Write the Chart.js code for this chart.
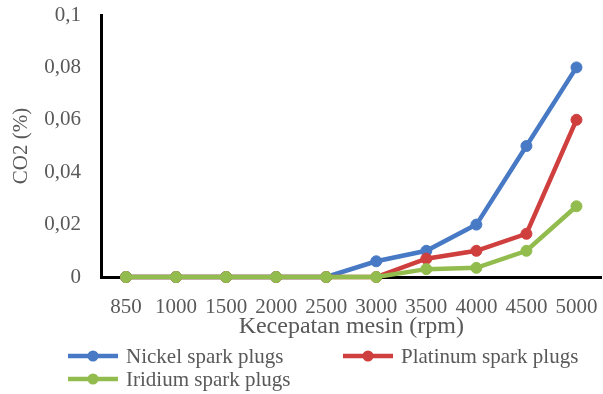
<!DOCTYPE html>
<html>
<head>
<meta charset="utf-8">
<style>
  html, body { margin: 0; padding: 0; background: #ffffff; overflow: hidden; }
  #wrap { position: relative; width: 603px; height: 394px; overflow: hidden; }
  #chart { display: block; }
</style>
<script src="https://cdn.jsdelivr.net/npm/chart.js@4/dist/chart.umd.min.js"></script>
</head>
<body>
<div id="wrap"><canvas id="chart" width="608" height="394"></canvas></div>
<script>
// Engine speed categories (rpm)
const rpmLabels = ['850', '1000', '1500', '2000', '2500', '3000', '3500', '4000', '4500', '5000'];

// CO2 emission (%) per spark plug type
const nickelCO2   = [0, 0, 0, 0, 0, 0.006, 0.010, 0.020, 0.050, 0.080];
const platinumCO2 = [0, 0, 0, 0, 0, 0,     0.007, 0.010, 0.0165, 0.060];
const iridiumCO2  = [0, 0, 0, 0, 0, 0,     0.003, 0.0035, 0.010, 0.027];

// Y axis tick labels (decimal comma)
const yTickLabels = ['0', '0,02', '0,04', '0,06', '0,08', '0,1'];

const seriesNames = ['Nickel spark plugs', 'Platinum spark plugs', 'Iridium spark plugs'];
const seriesColors = ['#4779c4', '#cf3f3d', '#92bd4e'];

const textGray = '#595959';
const serif = '"Liberation Serif", "Times New Roman", serif';

function lineDataset(i, values, order) {
  return {
    label: seriesNames[i],
    data: values,
    borderColor: seriesColors[i],
    backgroundColor: seriesColors[i],
    pointBackgroundColor: seriesColors[i],
    pointBorderColor: seriesColors[i],
    borderWidth: 4.5,
    pointRadius: 5.5,
    pointBorderWidth: 1,
    tension: 0,
    clip: false,
    order: order
  };
}

// Legend laid out in two columns, the third entry wrapping to a second row
const legendSlots = [
  { x: 68,  y: 356 },
  { x: 343, y: 356 },
  { x: 68,  y: 379 }
];

const legendPlugin = {
  id: 'columnLegend',
  afterDraw(chart) {
    const ctx = chart.ctx;
    ctx.save();
    seriesNames.forEach((name, i) => {
      const s = legendSlots[i];
      const c = seriesColors[i];
      ctx.strokeStyle = c;
      ctx.lineWidth = 4.5;
      ctx.lineCap = 'butt';
      ctx.beginPath();
      ctx.moveTo(s.x, s.y);
      ctx.lineTo(s.x + 50, s.y);
      ctx.stroke();
      ctx.fillStyle = c;
      ctx.beginPath();
      ctx.arc(s.x + 25, s.y, 5.5, 0, Math.PI * 2);
      ctx.fill();
      ctx.fillStyle = textGray;
      ctx.font = '21px ' + serif;
      ctx.textBaseline = 'middle';
      ctx.textAlign = 'left';
      ctx.fillText(name, s.x + 58, s.y + 1);
    });
    ctx.restore();
  }
};

new Chart(document.getElementById('chart'), {
  type: 'line',
  data: {
    labels: rpmLabels,
    datasets: [
      lineDataset(0, nickelCO2, 2),
      lineDataset(1, platinumCO2, 1),
      lineDataset(2, iridiumCO2, 0)
    ]
  },
  options: {
    responsive: false,
    animation: false,
    devicePixelRatio: 1,
    layout: { padding: { top: 15, right: 0, bottom: 53, left: 0 } },
    plugins: {
      legend: { display: false },
      tooltip: { enabled: false }
    },
    scales: {
      x: {
        type: 'category',
        offset: true,
        grid: { display: false, drawTicks: false },
        border: { display: true, color: '#000000', width: 3 },
        ticks: {
          color: textGray,
          font: { family: serif, size: 21 },
          padding: 18,
          maxRotation: 0,
          autoSkip: false
        },
        title: {
          display: true,
          text: 'Kecepatan mesin (rpm)',
          color: textGray,
          font: { family: serif, size: 24 },
          padding: 0
        },
        afterFit(scale) {
          scale.height = 64;
          scale.paddingLeft = 0;
          scale.paddingRight = 0;
        }
      },
      y: {
        min: 0,
        max: 0.1,
        grid: { display: false, drawTicks: false },
        border: { display: true, color: '#000000', width: 3 },
        ticks: {
          stepSize: 0.02,
          color: textGray,
          font: { family: serif, size: 21 },
          padding: 20,
          callback: (value, index) => yTickLabels[index]
        },
        title: {
          display: true,
          text: 'CO2 (%)',
          color: textGray,
          font: { family: serif, size: 21 },
          padding: { top: 9, bottom: 0 }
        },
        afterFit(scale) {
          scale.width = 101;
          scale.paddingTop = 0;
          scale.paddingBottom = 0;
        }
      }
    }
  },
  plugins: [legendPlugin]
});
</script>
</body>
</html>
